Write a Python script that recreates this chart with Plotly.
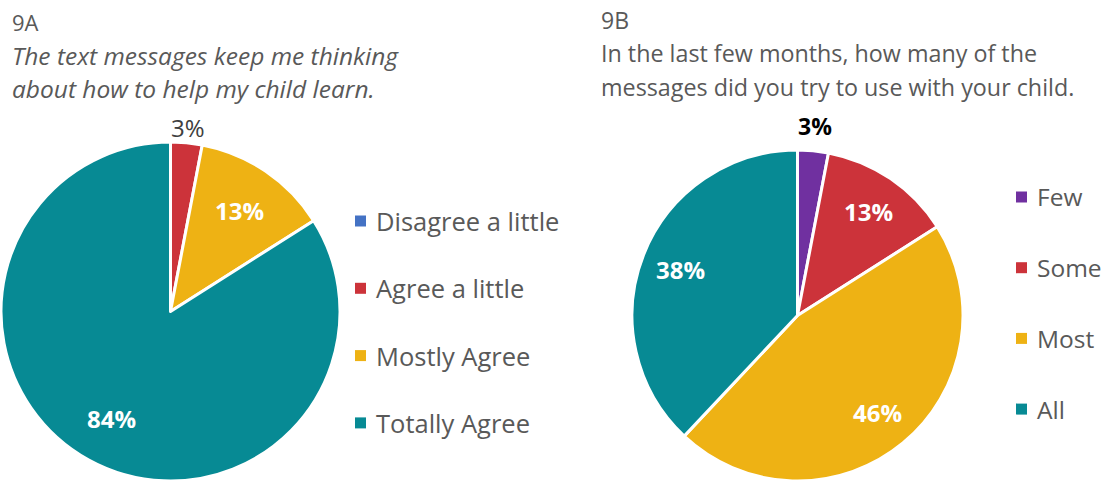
import math
import plotly.graph_objects as go

# Survey responses, percent of parents
labels_a = ["Disagree a little", "Agree a little", "Mostly Agree", "Totally Agree"]
values_a = [0, 3, 13, 84]
labels_b = ["Few", "Some", "Most", "All"]
values_b = [3, 13, 46, 38]

colors_a = ["#4472C4", "#CC333A", "#EEB214", "#078A94"]
colors_b = ["#7030A0", "#CC333A", "#EEB214", "#078A94"]

W, H = 1111, 481
FONT = "Open Sans"
GREY = "#595959"

# pie placement in pixels: left, right, top, bottom
box_a = (1, 340, 142, 481)
box_b = (629, 966, 150, 481)


def dom(box):
    x0, x1, y0, y1 = box
    return dict(x=[x0 / W, x1 / W], y=[1 - y1 / H, 1 - y0 / H])


fig = go.Figure()
for labels, values, colors, box in [(labels_a, values_a, colors_a, box_a),
                                     (labels_b, values_b, colors_b, box_b)]:
    fig.add_trace(go.Pie(
        labels=labels, values=values, sort=False, direction="clockwise",
        rotation=0, textinfo="none", hoverinfo="label+percent",
        marker=dict(colors=colors, line=dict(color="white", width=3)),
        domain=dom(box), showlegend=False,
    ))

ann = []
shapes = []


def pct_labels(values, box, outside_style, inside_frac, outside_frac):
    x0, x1, y0, y1 = box
    r = min(x1 - x0, y1 - y0) / 2
    cx, cy = (x0 + x1) / 2, (y0 + y1) / 2
    total = sum(values)
    cum = 0
    for v in values:
        if v == 0:
            cum += v
            continue
        mid = (cum + v / 2) / total * 2 * math.pi
        cum += v
        if v < 5:
            rr = r * outside_frac
            font = outside_style
        else:
            rr = r * inside_frac
            font = dict(family=FONT, size=24, color="white", weight="bold")
        px = cx + rr * math.sin(mid)
        py = cy - rr * math.cos(mid)
        ann.append(dict(x=px / W, y=1 - py / H, xref="paper", yref="paper",
                        text=f"{v}%", showarrow=False, font=font,
                        xanchor="center", yanchor="middle"))


pct_labels(values_a, box_a, dict(family=FONT, size=24, color="#404040"), 0.72, 1.09)
pct_labels(values_b, box_b, dict(family=FONT, size=23, color="black", weight="bold"), 0.76, 1.15)


def legend(labels, colors, sq_x, y_first, step, size):
    for i, (lab, col) in enumerate(zip(labels, colors)):
        y = y_first + i * step
        shapes.append(dict(type="rect", xref="paper", yref="paper",
                           x0=sq_x / W, x1=(sq_x + 11) / W,
                           y0=1 - (y + 5.5) / H, y1=1 - (y - 5.5) / H,
                           fillcolor=col, line=dict(width=0)))
        ann.append(dict(x=(sq_x + 19) / W, y=1 - y / H, xref="paper", yref="paper",
                        text=lab, showarrow=False, xanchor="left", yanchor="middle",
                        font=dict(family=FONT, size=size, color=GREY)))


legend(labels_a, colors_a, 355, 221, 67.3, 25.5)
legend(labels_b, colors_b, 1016, 197, 70.7, 24.5)

# panel headings
titles = [
    (10, 22, "9A", "normal", 22),
    (10, 55, "The text messages keep me thinking", "italic", 24.5),
    (10, 88, "about how to help my child learn.", "italic", 24.5),
    (599, 20, "9B", "normal", 23),
    (599, 53, "In the last few months, how many of the", "normal", 23.3),
    (599, 87, "messages did you try to use with your child.", "normal", 23.3),
]
for x, y, t, style, size in titles:
    ann.append(dict(x=x / W, y=1 - y / H, xref="paper", yref="paper", text=t,
                    showarrow=False, xanchor="left", yanchor="middle",
                    font=dict(family=FONT, size=size, color=GREY, style=style)))

fig.update_layout(
    width=W, height=H, autosize=False,
    margin=dict(l=0, r=0, t=0, b=0),
    paper_bgcolor="white", plot_bgcolor="white",
    annotations=ann, shapes=shapes,
)

fig.write_html("out.html")
